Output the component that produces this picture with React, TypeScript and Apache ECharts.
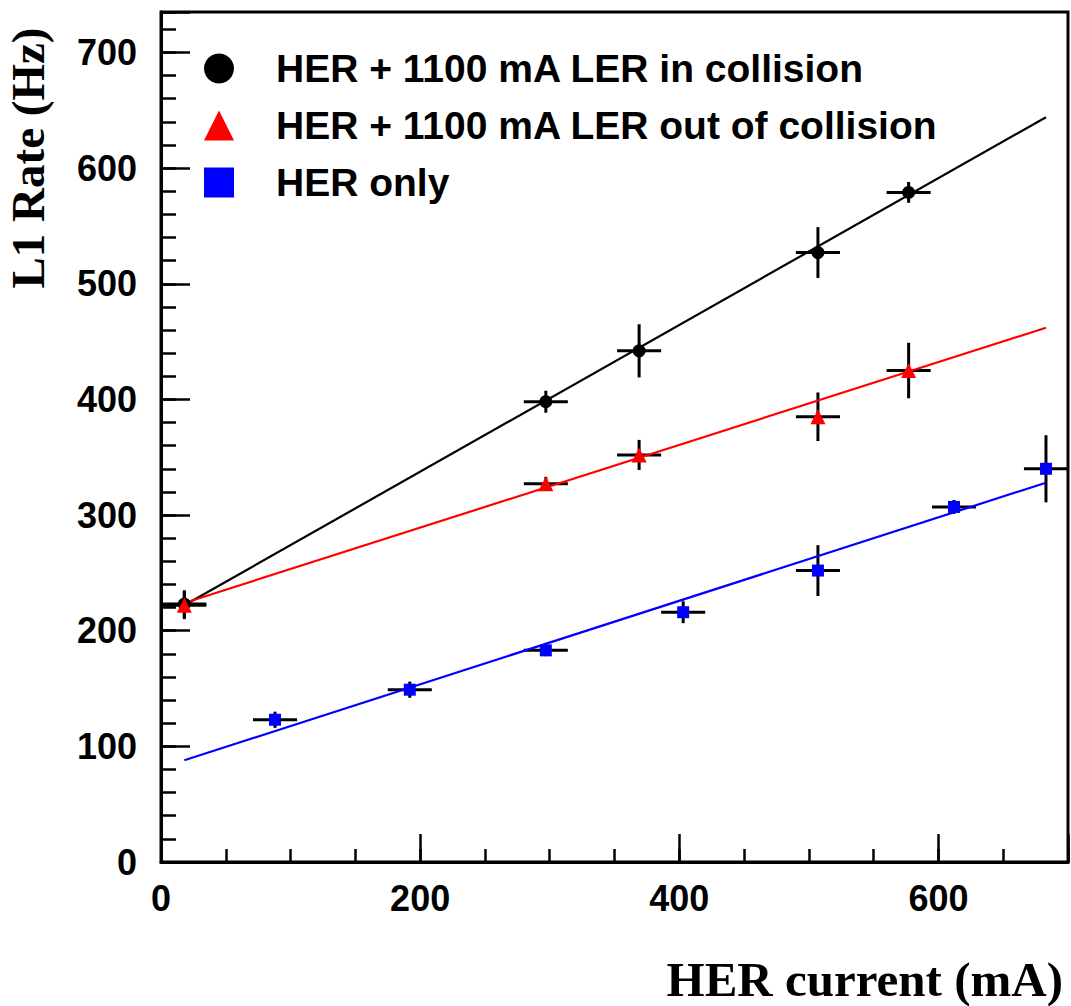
import React, { useEffect, useRef } from "react";
import * as echarts from "echarts";

// HER + 1100 mA LER in collision
const collisionX = [18, 297, 369, 507, 577];
const collisionY = [223, 398, 442, 527, 579];
const collisionXErr = [17, 17, 17, 17, 17];
const collisionYErr = [12, 9.5, 23, 22, 9];

// HER + 1100 mA LER out of collision
const outX = [18, 297, 369, 507, 577];
const outY = [222, 327, 352, 385, 425];
const outXErr = [17, 17, 17, 17, 17];
const outYErr = [12, 6, 13, 21, 24];

// HER only
const herX = [88, 192, 297, 403, 507, 612, 683];
const herY = [123, 149, 183, 216, 252, 307, 340];
const herXErr = [17, 17, 17, 17, 17, 17, 17];
const herYErr = [7, 7, 5, 9.5, 22, 6, 29];

// Linear fits (end points)
const fitCollision = [[18, 222], [683, 644]];
const fitOut = [[18, 224], [683, 462]];
const fitHer = [[18, 88], [683, 328]];

const seriesNames = [
  "HER + 1100 mA LER in collision",
  "HER + 1100 mA LER out of collision",
  "HER only",
];

const xTicksMajor = 200;
const xTicksMinor = 50;
const yTicksMajor = 100;
const yTicksMinor = 20;

const SANS = '"Liberation Sans", Arial, Helvetica, sans-serif';
const SERIF = '"Liberation Serif", "Times New Roman", serif';

function zip(xs: number[], ys: number[], xe: number[], ye: number[]) {
  return xs.map((x, i) => [x, ys[i], xe[i], ye[i]]);
}

export default function App() {
  const ref = useRef<HTMLDivElement>(null);
  useEffect(() => {
    if (!ref.current) return;
    const chart = echarts.init(ref.current, undefined, { renderer: "svg" });

    const errRender = (params: any, api: any) => {
      const x = api.value(0);
      const y = api.value(1);
      const xe = api.value(2);
      const ye = api.value(3);
      const l = api.coord([x - xe, y]);
      const r = api.coord([x + xe, y]);
      const t = api.coord([x, y + ye]);
      const b = api.coord([x, y - ye]);
      return {
        type: "group",
        children: [
          { type: "line", shape: { x1: l[0], y1: l[1], x2: r[0], y2: r[1] }, style: { stroke: "#000", lineWidth: 3 } },
          { type: "line", shape: { x1: t[0], y1: t[1], x2: b[0], y2: b[1] }, style: { stroke: "#000", lineWidth: 3 } },
        ],
      };
    };

    const errSeries = (data: number[][]) => ({
      type: "custom",
      renderItem: errRender,
      data,
      encode: { x: 0, y: 1 },
      xAxisIndex: 0,
      yAxisIndex: 0,
      clip: true,
      z: 3,
      silent: true,
    });

    const fitSeries = (data: number[][], color: string) => ({
      type: "line",
      data,
      xAxisIndex: 0,
      yAxisIndex: 0,
      symbol: "none",
      lineStyle: { color, width: 2.2, opacity: 1 },
      z: 4,
      silent: true,
    });

    const xMajor = {
      type: "value",
      min: 0,
      max: 700,
      interval: xTicksMajor,
      position: "bottom",
      axisLine: { show: true, lineStyle: { color: "#000", width: 3 } },
      axisTick: { show: true, inside: true, length: 28, lineStyle: { color: "#000", width: 2.5 } },
      axisLabel: {
        show: true,
        margin: 18,
        color: "#000",
        fontFamily: SANS,
        fontWeight: "bold",
        fontSize: 36,
        formatter: (v: number) => (v % 200 === 0 ? String(v) : ""),
      },
      splitLine: { show: false },
    };
    const xMinor = {
      type: "value",
      min: 0,
      max: 700,
      interval: xTicksMinor,
      position: "bottom",
      axisLine: { show: false },
      axisTick: { show: true, inside: true, length: 13, lineStyle: { color: "#000", width: 2.5 } },
      axisLabel: { show: false },
      splitLine: { show: false },
    };
    const yMajor = {
      type: "value",
      min: 0,
      max: 735,
      interval: yTicksMajor,
      position: "left",
      axisLine: { show: true, lineStyle: { color: "#000", width: 3 } },
      axisTick: { show: true, inside: true, length: 29, lineStyle: { color: "#000", width: 2.5 } },
      axisLabel: {
        show: true,
        margin: 24,
        color: "#000",
        fontFamily: SANS,
        fontWeight: "bold",
        fontSize: 36,
        formatter: (v: number) => (v % 100 === 0 && v <= 700 ? String(v) : ""),
      },
      splitLine: { show: false },
    };
    const yMinor = {
      type: "value",
      min: 0,
      max: 735,
      interval: yTicksMinor,
      position: "left",
      axisLine: { show: false },
      axisTick: { show: true, inside: true, length: 15, lineStyle: { color: "#000", width: 2.5 } },
      axisLabel: { show: false },
      splitLine: { show: false },
    };

    chart.setOption({
      animation: false,
      backgroundColor: "#fff",
      grid: {
        left: 161,
        right: 2,
        top: 12,
        bottom: 144,
        show: true,
        borderColor: "#000",
        borderWidth: 3,
        backgroundColor: "transparent",
      },
      xAxis: [xMajor, xMinor],
      yAxis: [yMajor, yMinor],
      legend: {
        orient: "vertical",
        left: 199,
        top: 44,
        itemWidth: 30,
        itemHeight: 30,
        itemGap: 18,
        selectedMode: false,
        textStyle: {
          fontSize: 39,
          fontWeight: "bold",
          fontFamily: SANS,
          color: "#000",
          padding: [0, 0, 0, 37],
        },
        data: [
          { name: seriesNames[0], icon: "circle" },
          { name: seriesNames[1], icon: "triangle" },
          { name: seriesNames[2], icon: "rect" },
        ],
      },
      graphic: [
        {
          type: "text",
          x: 28,
          y: 158,
          rotation: Math.PI / 2,
          style: {
            text: "L1 Rate (Hz)",
            font: `bold 47px ${SERIF}`,
            fill: "#000",
            textAlign: "center",
            textVerticalAlign: "middle",
          },
        },
        {
          type: "text",
          x: 1063,
          y: 979,
          style: {
            text: "HER current (mA)",
            font: `bold 49px ${SERIF}`,
            fill: "#000",
            textAlign: "right",
            textVerticalAlign: "middle",
          },
        },
      ],
      series: [
        fitSeries(fitCollision, "#000000"),
        fitSeries(fitOut, "#ff0000"),
        fitSeries(fitHer, "#0000ff"),
        errSeries(zip(collisionX, collisionY, collisionXErr, collisionYErr)),
        errSeries(zip(outX, outY, outXErr, outYErr)),
        errSeries(zip(herX, herY, herXErr, herYErr)),
        {
          name: seriesNames[0],
          type: "scatter",
          data: collisionX.map((x, i) => [x, collisionY[i]]),
          symbol: "circle",
          symbolSize: 13,
          itemStyle: { color: "#000000", opacity: 1 },
          z: 5,
        },
        {
          name: seriesNames[1],
          type: "scatter",
          data: outX.map((x, i) => [x, outY[i]]),
          symbol: "triangle",
          symbolSize: 15,
          itemStyle: { color: "#ff0000", opacity: 1 },
          z: 6,
        },
        {
          name: seriesNames[2],
          type: "scatter",
          data: herX.map((x, i) => [x, herY[i]]),
          symbol: "rect",
          symbolSize: 12,
          itemStyle: { color: "#0000ff", opacity: 1 },
          z: 5,
        },
      ],
    });
    return () => chart.dispose();
  }, []);
  return (
    <div
      ref={ref}
      style={{ position: "absolute", left: 0, top: 0, width: 1071, height: 1006, background: "#fff" }}
    />
  );
}
